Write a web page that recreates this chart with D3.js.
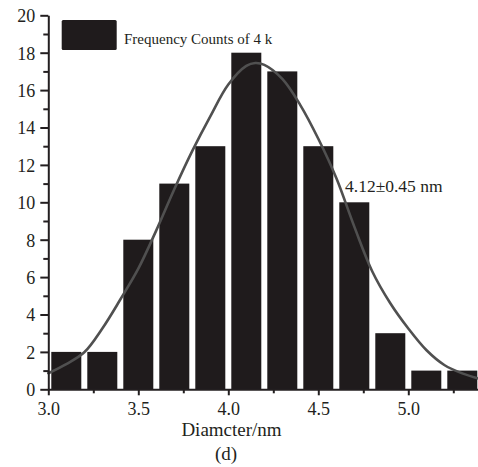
<!DOCTYPE html>
<html>
<head>
<meta charset="utf-8">
<script src="https://cdn.jsdelivr.net/npm/d3@7"></script>
<style>
  html, body { margin: 0; padding: 0; background: #fff; }
  svg { display: block; }
  text { font-family: "Liberation Serif", "Times New Roman", serif; fill: #231f20; }
</style>
</head>
<body>
<svg id="chart" width="478" height="467"></svg>
<script>
// ---- data ----
const binStarts = [3.0, 3.2, 3.4, 3.6, 3.8, 4.0, 4.2, 4.4, 4.6, 4.8, 5.0, 5.2];
const binWidth = 0.2;
const counts = [2, 2, 8, 11, 13, 18, 17, 13, 10, 3, 1, 1];

const fitX = [3.0, 3.1, 3.2, 3.3, 3.4, 3.5, 3.6, 3.7, 3.8, 3.9, 4.0, 4.1, 4.15, 4.2, 4.3, 4.4, 4.5, 4.6, 4.7, 4.8, 4.9, 5.0, 5.1, 5.2, 5.3, 5.4];
const fitY = [0.86, 1.35, 1.98, 3.25, 4.8, 6.45, 8.5, 10.7, 12.75, 14.6, 16.3, 17.3, 17.45, 17.35, 16.6, 15.2, 13.4, 11.3, 8.7, 6.3, 4.6, 3.25, 2.1, 1.3, 0.85, 0.55];

const xTickValues = [3.0, 3.5, 4.0, 4.5, 5.0];
const xMinorValues = [3.25, 3.75, 4.25, 4.75, 5.25];
const yTickValues = [0, 2, 4, 6, 8, 10, 12, 14, 16, 18, 20];
const yMinorValues = [1, 3, 5, 7, 9, 11, 13, 15, 17, 19];

const legendLabel = "Frequency Counts of 4 k";
const annotationLabel = "4.12\u00B10.45 nm";
const xTitle = "Diamcter/nm";
const panelLabel = "(d)";

// ---- layout ----
const svg = d3.select("#chart");
const mLeft = 48.3, mTop = 15.3, plotH = 374;
const x = d3.scaleLinear().domain([3.0, 5.4]).range([mLeft, mLeft + 2.4 * 180]);
const y = d3.scaleLinear().domain([0, 20]).range([mTop + plotH, mTop]);
const ink = "#231f20";

// bars
const inset = 3;
svg.append("g").selectAll("rect")
  .data(binStarts.map((b, i) => ({ b, c: counts[i] })))
  .join("rect")
  .attr("x", d => x(d.b) + inset)
  .attr("width", d => x(d.b + binWidth) - x(d.b) - 2 * inset)
  .attr("y", d => y(d.c))
  .attr("height", d => y(0) - y(d.c))
  .attr("fill", "#1f1b1c");

// fit curve
const line = d3.line()
  .x((d, i) => x(fitX[i]))
  .y(d => y(d))
  .curve(d3.curveCatmullRom);
svg.append("path")
  .attr("d", line(fitY))
  .attr("fill", "none")
  .attr("stroke", "#505050")
  .attr("stroke-width", 2.6)
  .attr("stroke-linecap", "round");

// axes
function styleAxis(g) {
  g.select(".domain").attr("stroke", ink).attr("stroke-width", 2);
  g.selectAll(".tick line").attr("stroke", ink).attr("stroke-width", 2);
  g.selectAll(".tick text").style("font-size", "18px").attr("fill", ink);
}

const yAxis = svg.append("g")
  .attr("transform", `translate(${mLeft},0)`)
  .call(d3.axisLeft(y).tickValues(yTickValues).tickSize(8).tickSizeOuter(0).tickPadding(5).tickFormat(d3.format("d")));
styleAxis(yAxis);
yAxis.selectAll(".tick text").attr("dy", "0.36em");

const yMinor = svg.append("g")
  .attr("transform", `translate(${mLeft},0)`)
  .call(d3.axisLeft(y).tickValues(yMinorValues).tickSize(5).tickSizeOuter(0).tickFormat(""));
styleAxis(yMinor);
yMinor.select(".domain").remove();

const xAxis = svg.append("g")
  .attr("transform", `translate(0,${y(0)})`)
  .call(d3.axisBottom(x).tickValues(xTickValues).tickSize(6).tickSizeOuter(0).tickPadding(14).tickFormat(d3.format(".1f")));
styleAxis(xAxis);
xAxis.selectAll(".tick text").attr("dy", "0.3em");

const xMinor = svg.append("g")
  .attr("transform", `translate(0,${y(0)})`)
  .call(d3.axisBottom(x).tickValues(xMinorValues).tickSize(4).tickSizeOuter(0).tickFormat(""));
styleAxis(xMinor);
xMinor.select(".domain").remove();

// legend
svg.append("rect")
  .attr("x", 61.7).attr("y", 20).attr("width", 55).attr("height", 30)
  .attr("rx", 1.5)
  .attr("fill", "#1f1b1c");
svg.append("text")
  .attr("x", 124).attr("y", 44)
  .style("font-size", "15px")
  .text(legendLabel);

// annotation
svg.append("text")
  .attr("x", 345).attr("y", 192)
  .style("font-size", "17.5px")
  .text(annotationLabel);

// axis title and panel label
svg.append("text")
  .attr("x", 231.5).attr("y", 436)
  .attr("text-anchor", "middle")
  .style("font-size", "19px")
  .text(xTitle);
svg.append("text")
  .attr("x", 226).attr("y", 460)
  .attr("text-anchor", "middle")
  .style("font-size", "19px")
  .text(panelLabel);
</script>
</body>
</html>
